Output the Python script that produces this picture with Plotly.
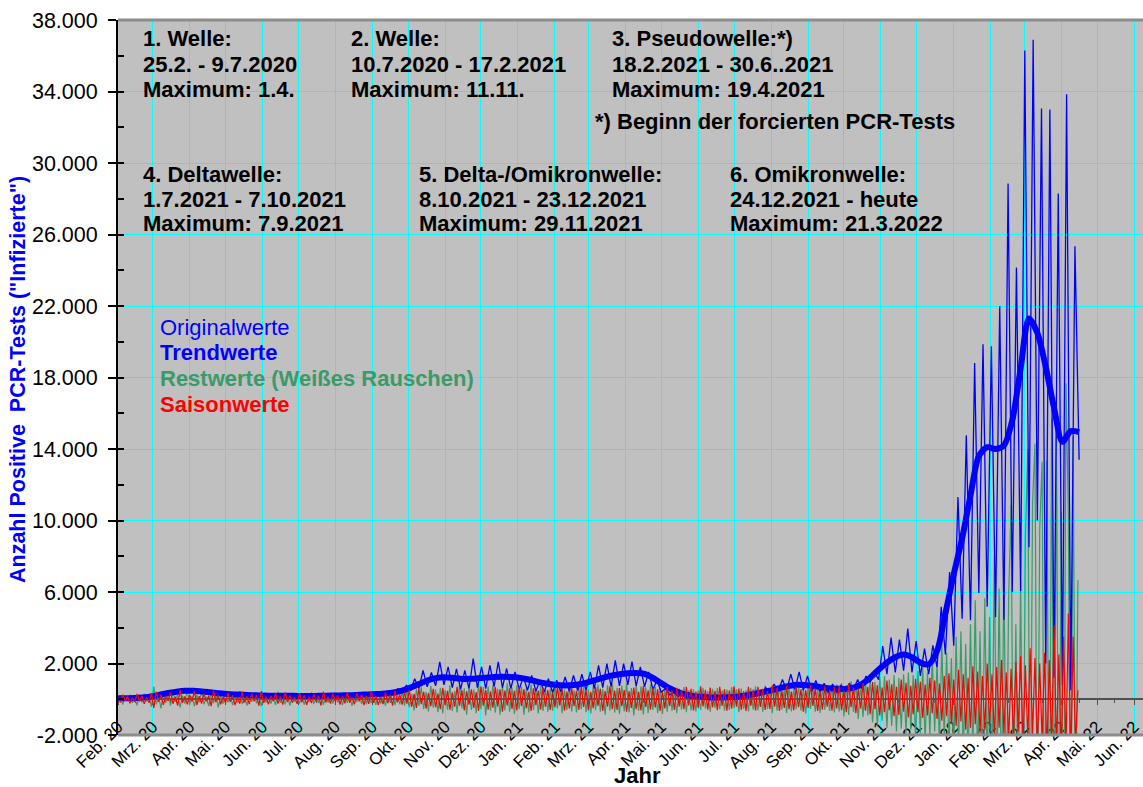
import pandas as pd
import plotly.graph_objects as go

START = "2020-02-01"

# ---------------- data ----------------
# weekly trend values (Trendwerte), one per 7 days from START
trend = [
    50, 60, 70, 100, 150, 250, 350, 420, 470, 480,
    440, 390, 340, 300, 270, 250, 230, 210, 200, 190,
    190, 190, 180, 180, 190, 200, 210, 220, 230, 250,
    270, 290, 320, 380, 480, 650, 850, 1050, 1180, 1230,
    1200, 1150, 1140, 1170, 1210, 1250, 1260, 1240, 1200, 1120,
    1000, 900, 820, 780, 780, 820, 920, 1050, 1200, 1320,
    1400, 1450, 1470, 1420, 1200, 900, 620, 400, 250, 160,
    120, 100, 100, 110, 140, 200, 280, 380, 480, 600,
    720, 800, 800, 750, 680, 620, 590, 580, 650, 850,
    1200, 1650, 2050, 2350, 2500, 2350, 2050, 1950, 2700, 4800,
    7000, 9000, 11400, 13600, 14100, 14000, 14200, 15600, 18500, 21300,
    20500, 18600, 16300, 14400, 15000, 14950,
]

# original values (Originalwerte), lows and highs, one per 3.5 days from START
original = [
    30, 90, 50, 110, 60, 130, 80, 170, 120, 260,
    200, 380, 300, 470, 380, 540, 420, 560, 430, 550,
    400, 520, 360, 470, 320, 420, 280, 380, 250, 330,
    220, 310, 200, 280, 170, 250, 160, 240, 150, 230,
    150, 230, 140, 220, 140, 230, 150, 240, 160, 250,
    160, 260, 170, 280, 180, 300, 190, 320, 210, 340,
    220, 360, 240, 400, 280, 480, 340, 600, 420, 780,
    480, 1150, 600, 1620, 700, 1500, 750, 2090, 800, 1810,
    650, 1700, 550, 1620, 600, 2270, 650, 1810, 600, 1900,
    700, 2090, 650, 1720, 600, 1530, 550, 1250, 500, 1340,
    450, 1060, 400, 1150, 380, 1060, 420, 1250, 450, 1340,
    480, 1400, 500, 1530, 600, 1900, 650, 1990, 700, 2180,
    750, 1990, 800, 2100, 750, 1810, 700, 1530, 550, 1060,
    400, 590, 250, 400, 150, 280, 80, 180, 60, 150,
    50, 140, 40, 150, 60, 170, 80, 220, 120, 300,
    150, 380, 220, 500, 300, 650, 400, 850, 450, 1100,
    500, 1400, 550, 1530, 500, 1300, 450, 1050, 400, 900,
    350, 850, 350, 800, 400, 900, 450, 1100, 600, 1300,
    950, 1550, 1100, 2970, 1400, 3450, 1500, 3340, 1600, 3950,
    1500, 3260, 1300, 2830, 1400, 3020, 1800, 5170, 2500, 7120,
    3000, 11320, 4500, 14770, 4420, 18810, 5950, 19860, 5170, 19750,
    4600, 22000, 4450, 28850, 6010, 24150, 6060, 36300, 8500, 36900,
    10000, 33050, 2000, 32990, 1200, 28290, 800, 33850, 500, 25340, 13400,
]

# residual values (Restwerte, Weißes Rauschen), one per 2 days from START
rest = [
    -150, 220, -300, 180, -90, 260, -200, 120, -340, 250, -180, 310, -120, 200, -420,
    690, -280, 150, -510, 380, -200, 260, -350, 480, -150, 300, -450, 220, -240, 560,
    -320, 190, -400, 260, -170, 420, -290, 150, -380, 330, -210, 280, -460, 190, -250,
    370, -180, 240, -330, 160, -210, 450, -270, 200, -360, 280, -140, 320, -230, 170,
    -390, 260, -180, 300, -250, 140, -320, 420, -200, 230, -280, 190, -350, 260, -150,
    310, -240, 180, -300, 230, -160, 380, -270, 150, -220, 340, -310, 200, -180, 270,
    -250, 360, -190, 140, -330, 280, -200, 240, -370, 190, -160, 320, -260, 210, -290,
    380, -220, 170, -310, 420, -240, 190, -350, 300, -180, 460, -330, 250, -280, 400,
    -360, 520, -450, 300, -620, 580, -380, 700, -540, 420, -680, 750, -470, 560, -720,
    640, -800, 520, -580, 780, -650, 460, -740, 820, -520, 610, -860, 700, -600, 540,
    -780, 850, -560, 680, -900, 720, -640, 800, -750, 590, -870, 760, -620, 900, -700,
    650, -820, 780, -560, 700, -880, 620, -740, 830, -600, 560, -790, 720, -650, 600,
    -700, 580, -640, 760, -520, 650, -780, 540, -600, 720, -680, 500, -740, 640, -560,
    690, -720, 560, -800, 740, -610, 820, -700, 580, -860, 780, -640, 900, -750, 620,
    -820, 760, -680, 880, -740, 620, -900, 800, -660, 720, -850, 680, -780, 840, -600,
    700, -760, 620, -820, 560, -700, 760, -640, 520, -780, 600, -580, 680, -720, 500,
    -620, 560, -680, 480, -600, 640, -520, 450, -700, 580, -480, 620, -560, 500, -640,
    540, -600, 680, -500, 560, -720, 600, -540, 500, -680, 640, -580, 720, -620, 560,
    -700, 760, -560, 620, -780, 680, -640, 820, -600, 540, -760, 700, -680, 620, -560,
    740, -620, 560, -800, 680, -540, 720, -700, 600, -760, 640, -580, 780, -660, 700,
    -740, 820, -680, 900, -960, 760, -880, 1000, -720, 950, -1100, 860, -1000, 1050, -900,
    1150, -1300, 980, -1450, 1250, -1200, 1300, -1600, 1100, -1500, 1350, -1800, 1200, -1650, 1400,
    -1900, 1500, -1700, 1350, -2100, 1600, -1900, 1800, -2300, 1500, -2000, 2400, -1800, 2100, -2500,
    3130, -2200, 2600, -2800, 2300, -3100, 3500, -2600, 3800, -3400, 3100, -3800, 4200, -3300, 5540,
    -4000, 3800, -4500, 5650, -4200, 4600, -5000, 8060, -5500, 6200, -6000, 7200, -6500, 5800, 10850,
    -7000, 4200, -6500, 6660, -8000, 9000, 13930, -9500, 11000, 14300, -10500, 9500, 13280, -11000, 13370,
    -12000, 15720, -11500, 15440, -13000, 10500, -12500, 17660, 10200, -12000, 14670, -9000, 6660,
]

# seasonal values (Saisonwerte), one per 2 days from START
saison = [
    120, -180, 250, -90, 160, -220, 80, -150, 300, -120, 190, -260, 110, -200, 350,
    -480, 420, -150, 260, -310, 180, -90, 380, -250, 140, -350, 520, -200, 160, -280,
    240, -130, 450, -320, 170, -240, 310, -110, 200, -380, 490, -160, 230, -290, 150,
    -200, 360, -140, 220, -330, 130, -250, 410, -180, 170, -270, 300, -120, 240, -360,
    450, -210, 150, -280, 190, -100, 330, -240, 160, -300, 380, -150, 210, -190, 120,
    -260, 340, -170, 230, -320, 140, -210, 290, -130, 200, -350, 420, -180, 150, -240,
    310, -140, 220, -300, 170, -230, 400, -190, 130, -280, 360, -120, 250, -330, 180,
    -260, 440, -200, 190, -310, 150, -270, 390, -220, 240, -360, 470, -170, 260, -300,
    380, -250, 520, -410, 300, -480, 610, -280, 420, -530, 350, -390, 580, -450, 310,
    -560, 640, -330, 470, -600, 380, -420, 690, -370, 510, -620, 450, -300, 560, -480,
    400, -650, 720, -360, 520, -580, 430, -470, 680, -400, 560, -690, 480, -350, 610,
    -540, 470, -620, 700, -380, 550, -500, 420, -660, 610, -330, 490, -580, 640, -420,
    520, -600, 380, -450, 670, -350, 560, -640, 430, -510, 620, -380, 470, -590, 700,
    -430, 540, -620, 410, -500, 680, -370, 590, -650, 460, -420, 720, -550, 480, -600,
    630, -390, 520, -700, 450, -480, 660, -560, 410, -620, 740, -430, 500, -580, 610,
    -460, 550, -650, 420, -510, 700, -380, 480, -600, 640, -420, 530, -560, 690, -350,
    590, -620, 430, -480, 720, -400, 520, -580, 650, -450, 470, -610, 700, -380, 560,
    -640, 480, -520, 730, -410, 600, -590, 450, -660, 700, -370, 540, -620, 690, -430,
    580, -600, 460, -540, 770, -420, 620, -650, 500, -480, 740, -560, 430, -610, 680,
    -450, 560, -700, 520, -490, 800, -380, 610, -660, 470, -580, 720, -420, 530, -640,
    690, -520, 750, -610, 480, -720, 860, -450, 640, -780, 580, -520, 910, -640, 700,
    -830, 960, -560, 780, -900, 650, -720, 1050, -610, 830, -950, 700, -880, 1100, -690,
    920, -1000, 750, -840, 1150, -720, 980, -1050, 820, -900, 1200, -780, 1050, -1100, 880,
    -1200, 1300, -950, 1450, -1350, 1100, -1500, 1650, -1250, 1400, -1700, 1200, -1600, 1850, -1400,
    1550, -1900, 1300, -1750, 2000, -1500, 1400, -2100, 1800, -1600, 2200, -1950, 1500, -2300, 1700,
    -2200, 2100, -1800, 2400, -2500, 1900, -2300, 2850, -2000, 2300, -2700, 2000, -2400, 2600, -3000,
    2200, -2600, 4140, -2800, 2500, -3200, 3500, -2900, 4800, -3400, 3490, -2500, 500,
]

month_labels = [
    "Feb. 20", "Mrz. 20", "Apr. 20", "Mai. 20", "Jun. 20", "Jul. 20", "Aug. 20",
    "Sep. 20", "Okt. 20", "Nov. 20", "Dez. 20", "Jan. 21", "Feb. 21", "Mrz. 21",
    "Apr. 21", "Mai. 21", "Jun. 21", "Jul. 21", "Aug. 21", "Sep. 21", "Okt. 21",
    "Nov. 21", "Dez. 21", "Jan. 22", "Feb. 22", "Mrz. 22", "Apr. 22", "Mai. 22",
    "Jun. 22",
]
y_tick_values = [-2000, 2000, 6000, 10000, 14000, 18000, 22000, 26000, 30000, 34000, 38000]
y_tick_labels = ["-2.000", "2.000", "6.000", "10.000", "14.000", "18.000",
                 "22.000", "26.000", "30.000", "34.000", "38.000"]

wave_blocks = [
    ["1. Welle:", "25.2. - 9.7.2020", "Maximum: 1.4."],
    ["2. Welle:", "10.7.2020 - 17.2.2021", "Maximum: 11.11."],
    ["3. Pseudowelle:*)", "18.2.2021 - 30.6..2021", "Maximum: 19.4.2021"],
    ["4. Deltawelle:", "1.7.2021 - 7.10.2021", "Maximum: 7.9.2021"],
    ["5. Delta-/Omikronwelle:", "8.10.2021 - 23.12.2021", "Maximum: 29.11.2021"],
    ["6. Omikronwelle:", "24.12.2021 - heute", "Maximum: 21.3.2022"],
]
footnote = "*) Beginn der forcierten PCR-Tests"
legend_items = [
    ("Originalwerte", "#0000FF", "normal"),
    ("Trendwerte", "#0000FF", "bold"),
    ("Restwerte (Weißes Rauschen)", "#3A9B6A", "bold"),
    ("Saisonwerte", "#FF0000", "bold"),
]

# ---------------- figure ----------------
FONT = "Liberation Sans, Arial, sans-serif"
BLUE = "#0000FF"
GREEN = "#3A9B6A"
RED = "#FF0000"
GRID = "#00FFFF"

d_trend = pd.date_range(START, periods=len(trend), freq="7D")
d_orig = pd.date_range(START, periods=len(original), freq="84h")
d_rest = pd.date_range(START, periods=len(rest), freq="2D")
d_sais = pd.date_range(START, periods=len(saison), freq="2D")
month_dates = pd.date_range(START, periods=len(month_labels), freq="MS")

fig = go.Figure()
fig.add_trace(go.Scatter(x=d_rest, y=rest, mode="lines",
                         line=dict(color=GREEN, width=1.2), name="Restwerte"))
fig.add_trace(go.Scatter(x=d_orig, y=original, mode="lines",
                         line=dict(color=BLUE, width=1.3), name="Originalwerte"))
fig.add_trace(go.Scatter(x=d_trend, y=trend, mode="lines",
                         line=dict(color=BLUE, width=6, shape="spline", smoothing=0.8),
                         name="Trendwerte"))
fig.add_trace(go.Scatter(x=d_sais, y=saison, mode="lines",
                         line=dict(color=RED, width=1.2), name="Saisonwerte"))

L, R, T, B = 118, 0, 20, 52
W, H = 1143, 787
PW, PH = W - L - R, H - T - B


def px(x):
    return (x - L) / PW


def py(y):
    return (H - B - y) / PH


annotations = []


def add_text(x, y, text, color="black", weight="bold", size=22, anchor="left", angle=0):
    annotations.append(dict(
        x=px(x), y=py(y), xref="paper", yref="paper", text=text, showarrow=False,
        xanchor=anchor, yanchor="middle", textangle=angle,
        font=dict(family=FONT, size=size, color=color, weight=weight),
    ))


block_pos = [(141, 39), (349, 39), (610, 39), (141, 174), (417, 174), (728, 174)]
for (bx, by), lines in zip(block_pos, wave_blocks):
    for k, line in enumerate(lines):
        add_text(bx, by + 25 * k, line)
add_text(593, 121, footnote)

for k, (txt, col, wt) in enumerate(legend_items):
    add_text(158, 327.5 + 25.5 * k, txt, color=col, weight=wt)

add_text(637.5, 775, "Jahr", anchor="center", size=22)
add_text(18, 380, "Anzahl Positive\u00a0 PCR-Tests (\"Infizierte\")", color=BLUE,
         anchor="center", angle=-90, size=21.5)

fig.update_layout(
    width=W, height=H,
    margin=dict(l=L, r=R, t=T, b=B, autoexpand=False),
    paper_bgcolor="white", plot_bgcolor="#C0C0C0",
    showlegend=False,
    font=dict(family=FONT, color="black"),
    annotations=annotations,
    shapes=[
        dict(type="line", xref="paper", yref="paper", x0=0, x1=1, y0=0, y1=0,
             line=dict(color="#8C8C8C", width=3), layer="above"),
        dict(type="line", xref="paper", yref="paper", x0=0, x1=1, y0=1, y1=1,
             line=dict(color="#8C8C8C", width=3), layer="above"),
    ],
    xaxis=dict(
        type="date", range=[START, "2022-06-08 12:00"],
        tickmode="array", tickvals=month_dates, ticktext=month_labels,
        tickangle=-45, tickfont=dict(family=FONT, size=17, color="black"),
        showgrid=True, gridcolor=GRID, gridwidth=1,
        anchor="free", position=0.05,
        showline=True, linecolor="#505050", linewidth=2,
        ticks="outside", ticklen=5, tickcolor="#505050",
        minor=dict(ticks="outside", ticklen=3, dtick="M1", tick0="2020-01-16",
                   tickcolor="#505050", showgrid=False),
        zeroline=False, automargin=False, layer="below traces",
        ticklabelstandoff=5,
    ),
    yaxis=dict(
        range=[-2000, 38000], tickmode="array",
        tickvals=y_tick_values, ticktext=y_tick_labels,
        tickfont=dict(family=FONT, size=21.5, color="black"),
        showgrid=True, gridcolor=GRID, gridwidth=1,
        showline=True, linecolor="black", linewidth=2,
        ticks="outside", ticklen=8, tickcolor="black", tickwidth=1.5,
        minor=dict(ticks="inside", ticklen=6, dtick=2000, tickcolor="black", showgrid=False),
        zeroline=False, automargin=False, ticklabelstandoff=6,
    ),
)

fig.write_html("out.html", config={"displayModeBar": False},
               post_script="document.body.style.margin='0';")
